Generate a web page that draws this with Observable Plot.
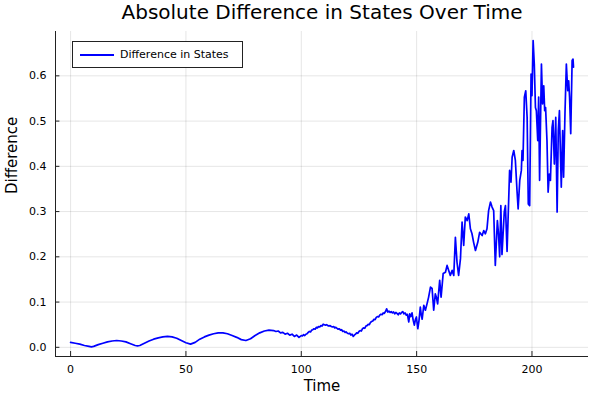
<!DOCTYPE html>
<html><head><meta charset="utf-8">
<script src="https://cdn.jsdelivr.net/npm/d3@7"></script>
<script src="https://cdn.jsdelivr.net/npm/@observablehq/plot@0.6"></script>
<style>
body{margin:0;background:#fff;font-family:"DejaVu Sans",sans-serif;}
#wrap{position:relative;width:600px;height:400px;}
#legend{position:absolute;left:72px;top:41px;width:169px;height:25px;border:1px solid #222;background:#fff;font-size:11px;display:flex;align-items:center;color:#000;}
#legend .swatch{width:34px;height:0;border-top:2px solid #0000ff;margin-left:7px;margin-right:6px;}
</style></head>
<body><div id="wrap"><div id="chart"></div><div id="legend"><span class="swatch"></span><span>Difference in States</span></div></div>
<script>
// Segment A: smooth oscillation, time 0-100
const timeA = [0,2,4,6,8,9,10,12,14,16,18,20,22,24,26,28,29,30,32,34,36,38,40,42,44,46,48,50,52,54,56,58,60,62,64,66,68,70,72,74,76,78,80,82,84,86,88,89,90,91,92,93,94,95,96,97,98,99,100];
const diffA = [0.011,0.009,0.007,0.004,0.002,0.001,0.002,0.006,0.009,0.012,0.014,0.015,0.014,0.012,0.008,0.004,0.003,0.004,0.009,0.014,0.018,0.021,0.023,0.024,0.023,0.020,0.015,0.010,0.007,0.011,0.018,0.023,0.027,0.030,0.032,0.032,0.030,0.026,0.022,0.017,0.015,0.019,0.026,0.032,0.036,0.038,0.037,0.035,0.036,0.032,0.033,0.029,0.031,0.027,0.029,0.024,0.027,0.022,0.026];

// Segment B: jittery rise, time 100.5-150.5
const timeB = [100.5,101,101.5,102,102.5,103,103.5,104,104.5,105,105.5,106,106.5,107,107.5,108,108.5,109,109.5,110,110.5,111,111.5,112,112.5,113,113.5,114,114.5,115,115.5,116,116.5,117,117.5,118,118.5,119,119.5,120,120.5,121,121.5,122,122.5,123,123.5,124,124.5,125,125.5,126,126.5,127,127.5,128,128.5,129,129.5,130,130.5,131,131.5,132,132.5,133,133.5,134,134.5,135,135.5,136,136.5,137,137.5,138,138.5,139,139.5,140,140.5,141,141.5,142,142.5,143,143.5,144,144.5,145,145.5,146,146.6,147,147.5,148,148.5,149,149.5,149.9,150.5];
const diffB = [0.025,0.028,0.026,0.029,0.030,0.033,0.035,0.034,0.038,0.039,0.041,0.040,0.044,0.043,0.046,0.045,0.048,0.047,0.051,0.050,0.049,0.050,0.048,0.047,0.048,0.046,0.045,0.046,0.043,0.044,0.042,0.040,0.041,0.038,0.039,0.035,0.036,0.033,0.034,0.031,0.030,0.031,0.027,0.029,0.024,0.027,0.029,0.032,0.031,0.035,0.037,0.036,0.041,0.043,0.042,0.047,0.048,0.051,0.050,0.055,0.057,0.058,0.062,0.061,0.066,0.068,0.067,0.071,0.073,0.072,0.076,0.075,0.079,0.085,0.078,0.080,0.077,0.079,0.076,0.078,0.074,0.077,0.075,0.072,0.076,0.074,0.077,0.079,0.074,0.076,0.071,0.073,0.056,0.074,0.068,0.076,0.060,0.049,0.062,0.067,0.041];

// Segment C: strong growth, time 151-218
const timeC = [151,151.6,152,152.4,153.1,153.8,154.5,155.2,156,156.7,157.4,158.1,158.6,159.1,160,160.6,161.5,162.5,163.2,163.9,164.6,165.4,166.1,166.8,167.5,168.2,169,169.7,170.4,171.1,171.9,172.6,173.3,174,174.7,175.5,176.5,177.3,178.4,179.1,179.8,180.5,181.2,182,182.7,183.4,184.1,185,185.5,186,186.5,187,188,188.5,189.2,190.3,190.9,191.4,192.1,192.8,193.5,194,194.7,195.4,195.7,196.1,196.7,197.3,197.9,198.4,199,199.6,200,200.5,201,201.5,201.9,202.5,202.9,203.3,204.1,204.6,205.1,205.5,205.9,206.5,207,207.5,208,208.7,209.1,209.7,210.3,210.9,211.4,211.9,212.3,212.7,213.3,213.7,214.3,214.9,215.5,215.9,216.3,216.8,217.4,217.8,218];
const diffC = [0.058,0.089,0.072,0.062,0.093,0.082,0.096,0.111,0.133,0.130,0.082,0.118,0.110,0.096,0.148,0.111,0.163,0.166,0.181,0.170,0.159,0.170,0.159,0.243,0.188,0.159,0.196,0.277,0.225,0.288,0.280,0.295,0.262,0.251,0.232,0.214,0.232,0.254,0.247,0.258,0.251,0.262,0.302,0.321,0.310,0.302,0.181,0.280,0.250,0.200,0.313,0.205,0.300,0.313,0.212,0.391,0.365,0.420,0.435,0.413,0.347,0.306,0.369,0.391,0.435,0.413,0.553,0.567,0.508,0.317,0.313,0.604,0.556,0.678,0.626,0.530,0.523,0.457,0.553,0.369,0.626,0.538,0.578,0.523,0.530,0.457,0.343,0.383,0.369,0.486,0.501,0.405,0.508,0.299,0.479,0.523,0.435,0.354,0.479,0.376,0.516,0.626,0.567,0.589,0.553,0.472,0.634,0.637,0.619];

const xTicks = [0,50,100,150,200];
const yTicks = [0,0.1,0.2,0.3,0.4,0.5,0.6];
const titleText = "Absolute Difference in States Over Time";
const xLabel = "Time";
const yLabel = "Difference";
const seriesName = "Difference in States";

const time = timeA.concat(timeB, timeC);
const diff = diffA.concat(diffB, diffC);
const data = time.map((t, i) => ({t, v: diff[i]}));

const xDomain = [-6.54, 224.5];
const yDomain = [-0.0203, 0.698];
const axisColor = "#222";

const chart = Plot.plot({
  width: 600, height: 400,
  marginLeft: 55, marginRight: 12, marginTop: 31, marginBottom: 44,
  style: {fontFamily: "DejaVu Sans", fontSize: "11px", color: "#000", background: "#fff"},
  x: {domain: xDomain},
  y: {domain: yDomain},
  marks: [
    Plot.gridX(xTicks, {stroke: "#000", strokeOpacity: 0.1}),
    Plot.gridY(yTicks, {stroke: "#000", strokeOpacity: 0.1}),
    Plot.axisX(xTicks, {tickSize: 0, tickPadding: 9, label: null}),
    Plot.axisY(yTicks, {tickSize: 0, tickPadding: 9, label: null, tickFormat: d3.format(".1f")}),
    Plot.ruleX(xTicks, {y1: yDomain[0], y2: yDomain[0] + 0.011, stroke: axisColor}),
    Plot.ruleY(yTicks, {x1: xDomain[0], x2: xDomain[0] + 1.9, stroke: axisColor}),
    Plot.ruleY([yDomain[0]], {stroke: axisColor}),
    Plot.ruleX([xDomain[0]], {stroke: axisColor}),
    Plot.line(data, {x: "t", y: "v", stroke: "#0000ff", strokeWidth: 1.7}),
    Plot.text([titleText], {frameAnchor: "top", lineAnchor: "middle", dy: -19, fontSize: 20}),
    Plot.text([xLabel], {frameAnchor: "bottom", lineAnchor: "middle", dy: 30, fontSize: 15}),
    Plot.text([yLabel], {frameAnchor: "left", lineAnchor: "middle", dx: -43, rotate: -90, fontSize: 15})
  ]
});
document.getElementById("chart").appendChild(chart);
document.querySelector("#legend span:last-child").textContent = seriesName;
</script>
</body></html>
